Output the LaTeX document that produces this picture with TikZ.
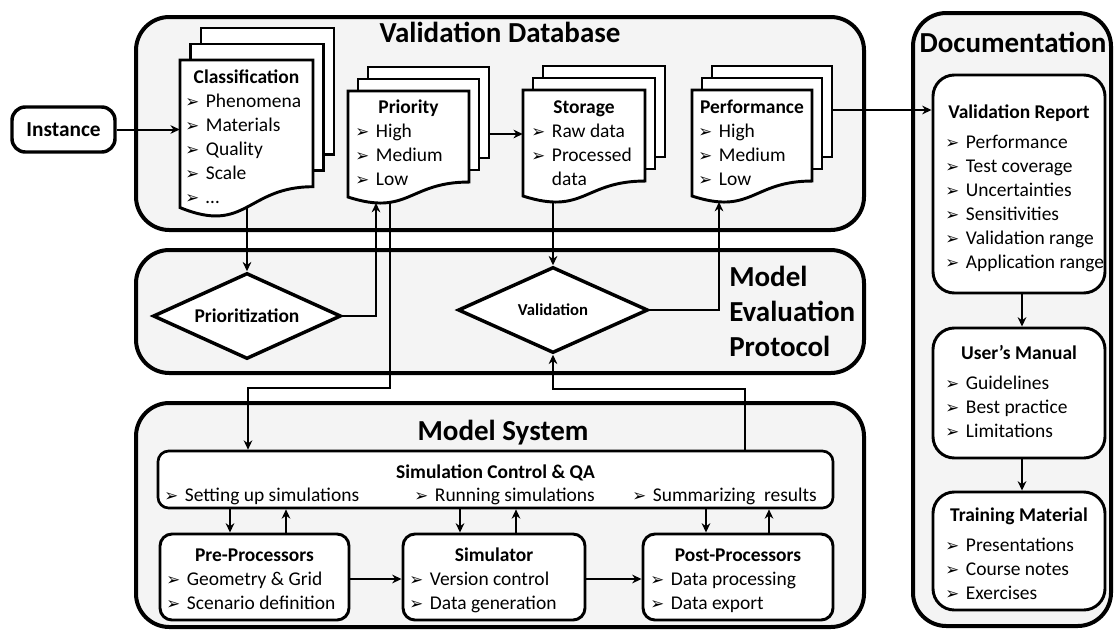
\documentclass[tikz,border=0pt]{standalone}
\usepackage{fontspec}
\setmainfont{Carlito}
\newfontfamily\dvfont{DejaVu Sans}
\usetikzlibrary{arrows.meta,shapes.geometric,fit,calc}
\definecolor{bgc}{HTML}{F4F4F4}
\newcommand{\bl}{\makebox[15.5pt][l]{\raisebox{0pt}{\dvfont\fontsize{12.5}{12.5}\selectfont ➢}}}
\newcommand{\ind}{\hspace*{15.5pt}}
\newcommand{\lines}[1]{\begin{tabular}[t]{@{}l@{}}#1\end{tabular}}
\newcommand{\docstack}[7]{%
  \pgfmathsetmacro{\dsYr}{#3+0.802*#5}%
  \pgfmathsetmacro{\dsYl}{#3+0.934*#5}%
  \pgfmathsetmacro{\dsYc}{#3+1.107*#5}%
  \pgfmathsetmacro{\dsXm}{(#2+#4)/2}%
  \draw[docl] ({#2+2*#6},{#3-2*#7}) rectangle ({#4+2*#6},{\dsYr-2*#7});
  \draw[docl] ({#2+#6},{#3-#7}) rectangle ({#4+#6},{\dsYr-#7});
  \draw[docl] (#2,#3) -- (#4,#3) -- (#4,\dsYr) .. controls (\dsXm,\dsYr) and (\dsXm,\dsYc) .. (#2,\dsYl) -- cycle;
  \node[inner sep=0pt, fit={(#2,#3) ({#4+2*#6},\dsYl)}] (#1) {};
}
\begin{document}
\begin{tikzpicture}[x=0.75pt,y=-0.75pt,
  cont/.style={draw, line width=3pt, rounded corners=25pt, fill=bgc, inner sep=0pt},
  wbox/.style={draw, line width=2.2pt, rounded corners=10pt, fill=white, inner sep=0pt},
  conn/.style={line width=1.5pt},
  arr/.style={conn, -{Stealth[length=7pt,width=6.5pt]}},
  txt/.style={inner sep=0pt, anchor=base west, font=\fontsize{14.6}{18}\selectfont},
  hd/.style={inner sep=0pt, anchor=base, font=\fontsize{14.6}{18}\selectfont\bfseries},
  ttl/.style={inner sep=0pt, anchor=base, font=\fontsize{21.75}{26.25}\selectfont\bfseries},
  dia/.style={diamond, draw, line width=2.6pt, fill=white, inner sep=0pt},
  docl/.style={draw, line width=2.2pt, fill=white}
]
\useasboundingbox (0,0) rectangle (1114,629);

% containers
\node[cont, fit={(136,17) (864,230)}] (vdb) {};
\node[cont, fit={(136,250) (864,373)}] (mep) {};
\node[cont, fit={(136,403) (864,627)}] (msys) {};
\node[cont, fit={(913,13) (1111,626)}] (docu) {};

\node[ttl] (tvdb) at (500,42) {Validation Database};
\node[ttl] (tdoc) at (1013,52) {Documentation};
\node[ttl] (tms) at (503,440) {Model System};
\node[ttl, anchor=base west] (tmep) at (729,286) {\lines{Model\\Evaluation\\Protocol}};

% instance
\node[wbox, line width=2.6pt, fit={(12,107) (115,152)}] (inst) {};
\node[inner sep=0pt, font=\fontsize{16}{18}\selectfont\bfseries] (tinst) at (inst.center) {Instance};

% document stacks
\docstack{cls}{180}{60}{313}{158}{10.5}{16}
\docstack{prio}{348}{91}{469}{113.5}{10}{12}
\docstack{stor}{523}{90}{645}{113.5}{10}{12}
\docstack{perf}{692}{90}{812}{113.5}{10}{12}

\node[hd] (hcls) at (246.5,83) {Classification};
\node[txt] (lcls) at (185,107) {\lines{\bl Phenomena\\ \bl Materials\\ \bl Quality\\ \bl Scale\\ \bl …}};
\node[hd] (hprio) at (408.5,113) {Priority};
\node[txt] (lprio) at (355,137) {\lines{\bl High\\ \bl Medium\\ \bl Low}};
\node[hd] (hstor) at (584,113) {Storage};
\node[txt] (lstor) at (531,137) {\lines{\bl Raw data\\ \bl Processed\\ \ind data}};
\node[hd] (hperf) at (752,113) {Performance};
\node[txt] (lperf) at (698,137) {\lines{\bl High\\ \bl Medium\\ \bl Low}};

% diamonds
\node[dia, minimum width=141pt, minimum height=64.5pt] (pz) at (247,316) {};
\node[inner sep=0pt, font=\fontsize{14.6}{18}\selectfont\bfseries] (tpz) at (pz.center) {Prioritization};
\node[dia, minimum width=142.5pt, minimum height=64.5pt] (val) at (553,310) {};
\node[inner sep=0pt, font=\fontsize{12.5}{14}\selectfont\bfseries] (tval) at (val.center) {Validation};

% documentation boxes
\node[wbox, rounded corners=16pt, fit={(933,75) (1105,293)}] (vr) {};
\node[hd] (hvr) at (1019,118) {Validation Report};
\node[txt] (lvr) at (945,148) {\lines{\bl Performance\\ \bl Test coverage\\ \bl Uncertainties\\ \bl Sensitivities\\ \bl Validation range\\ \bl Application range}};
\node[wbox, rounded corners=16pt, fit={(933,328) (1105,458)}] (um) {};
\node[hd] (hum) at (1019,359) {User’s Manual};
\node[txt] (lum) at (945,389) {\lines{\bl Guidelines\\ \bl Best practice\\ \bl Limitations}};
\node[wbox, rounded corners=16pt, fit={(933,492) (1105,610)}] (tm) {};
\node[hd] (htm) at (1019,521) {Training Material};
\node[txt] (ltm) at (945,551) {\lines{\bl Presentations\\ \bl Course notes\\ \bl Exercises}};

% model system
\node[wbox, line width=2pt, rounded corners=8pt, fit={(158,451) (833,508)}] (sc) {};
\node[hd] (hsc) at (495.5,478) {Simulation Control \& QA};
\node[txt] (sc1) at (164,501) {\bl Setting up simulations};
\node[txt] (sc2) at (414,501) {\bl Running simulations};
\node[txt] (sc3) at (632,501) {\bl Summarizing\ \ results};
\node[wbox, rounded corners=9pt, fit={(160,534) (349,620)}] (pre) {};
\node[hd] (hpre) at (254.5,561) {Pre-Processors};
\node[txt] (lpre) at (166,585) {\lines{\bl Geometry \& Grid\\ \bl Scenario definition}};
\node[wbox, rounded corners=9pt, fit={(403,534) (585,620)}] (simu) {};
\node[hd] (hsimu) at (494,561) {Simulator};
\node[txt] (lsimu) at (409,585) {\lines{\bl Version control\\ \bl Data generation}};
\node[wbox, rounded corners=9pt, fit={(643,534) (833,620)}] (post) {};
\node[hd] (hpost) at (738,561) {Post-Processors};
\node[txt] (lpost) at (650,585) {\lines{\bl Data processing\\ \bl Data export}};

% helper coordinates
\coordinate (clsB) at (247,207.4);
\coordinate (prioU) at (376,203);
\coordinate (prioD) at (390,203);
\coordinate (c1) at (390,388);
\coordinate (c2) at (248,388);
\coordinate (storB) at (553,202);
\coordinate (perfU) at (719,202);
\coordinate (c3) at (745,389);
\coordinate (c4) at (553,389);
\coordinate (a1) at (0,134);
\coordinate (a2) at (0,110);
\coordinate (c5) at (1022,0);
\coordinate (d1) at (230,0);
\coordinate (u1) at (286,0);
\coordinate (d2) at (460,0);
\coordinate (u2) at (516,0);
\coordinate (d3) at (706,0);
\coordinate (u3) at (769,0);
\coordinate (a3) at (0,579);

% connectors
\draw[arr] (inst.east) -- (inst.east -| cls.west);
\draw[arr] (clsB) -- (pz.north);
\draw[arr] (pz.east) -| (prioU);
\draw[arr] (prioD) -- (c1) -- (c2) -- (sc.north -| c2);
\draw[arr] (prio.east |- a1) -- (stor.west |- a1);
\draw[arr] (storB) -- (val.north);
\draw[arr] (val.east) -| (perfU);
\draw[arr] (sc.north -| c3) -- (c3) -- (c4) -- (val.south);
\draw[arr] (perf.east |- a2) -- (vr.west |- a2);
\draw[arr] (vr.south -| c5) -- (um.north -| c5);
\draw[arr] (um.south -| c5) -- (tm.north -| c5);
\draw[arr] (sc.south -| d1) -- (pre.north -| d1);
\draw[arr] (pre.north -| u1) -- (sc.south -| u1);
\draw[arr] (sc.south -| d2) -- (simu.north -| d2);
\draw[arr] (simu.north -| u2) -- (sc.south -| u2);
\draw[arr] (sc.south -| d3) -- (post.north -| d3);
\draw[arr] (post.north -| u3) -- (sc.south -| u3);
\draw[arr] (pre.east |- a3) -- (simu.west |- a3);
\draw[arr] (simu.east |- a3) -- (post.west |- a3);
\end{tikzpicture}
\end{document}
